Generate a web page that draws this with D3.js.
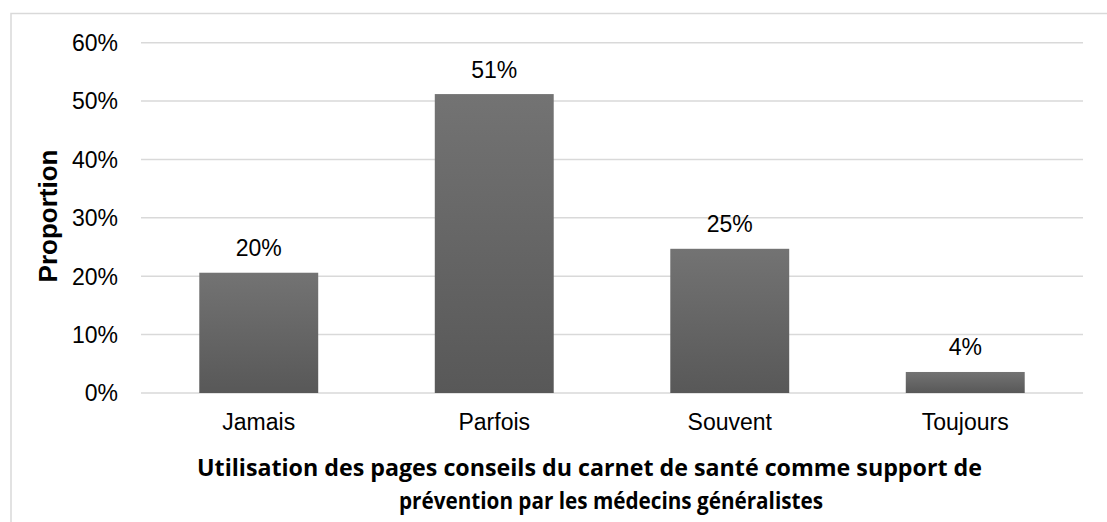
<!DOCTYPE html>
<html><head><meta charset="utf-8">
<script src="https://cdn.jsdelivr.net/npm/d3@7"></script>
<style>body{margin:0;background:#fff}svg{display:block}</style>
</head><body>
<svg id="c" width="1107" height="522"></svg>
<script>
const categories = ["Jamais", "Parfois", "Souvent", "Toujours"];
const values = [0.206, 0.512, 0.247, 0.036];
const valueLabels = ["20%", "51%", "25%", "4%"];
const yTicks = [0, 0.1, 0.2, 0.3, 0.4, 0.5, 0.6];
const yTitle = "Proportion";
const xTitleLines = ["Utilisation des pages conseils du carnet de santé comme support de", "prévention par les médecins généralistes"];

const svg = d3.select("#c");
const W = 1107, H = 522;
const m = {left: 141, right: 1083, top: 42.7, bottom: 393};
const sans = "Liberation Sans, Arial, sans-serif";

svg.append("rect").attr("x", 11).attr("y", 13.5).attr("width", W + 20).attr("height", H + 20)
  .attr("fill", "#fff").attr("stroke", "#d9d9d9").attr("stroke-width", 1.5);

const defs = svg.append("defs");
const g = defs.append("linearGradient").attr("id", "bg").attr("x1", 0).attr("y1", 0).attr("x2", 0).attr("y2", 1);
g.append("stop").attr("offset", "0%").attr("stop-color", "#737373");
g.append("stop").attr("offset", "100%").attr("stop-color", "#585858");

const x = d3.scaleBand().domain(categories).range([m.left, m.right]).paddingInner(0.495).paddingOuter(0.2475);
const y = d3.scaleLinear().domain([0, 0.6]).range([m.bottom, m.top]);

// gridlines
svg.append("g").selectAll("line").data(yTicks).join("line")
  .attr("x1", m.left).attr("x2", m.right)
  .attr("y1", d => y(d)).attr("y2", d => y(d))
  .attr("stroke", "#d9d9d9").attr("stroke-width", 1.5);

// y axis labels
const yAxis = d3.axisLeft(y).tickValues(yTicks).tickFormat(d3.format(".0%")).tickSize(0).tickPadding(0);
const ya = svg.append("g").attr("transform", `translate(118,0)`).call(yAxis);
ya.select(".domain").remove();
ya.selectAll("text").attr("font-family", sans).attr("font-size", 23).attr("fill", "#000").attr("dy", "0.34em");

// bars
svg.append("g").selectAll("rect").data(values).join("rect")
  .attr("x", (d, i) => x(categories[i]))
  .attr("width", x.bandwidth())
  .attr("y", d => y(d))
  .attr("height", d => y(0) - y(d))
  .attr("fill", "url(#bg)");

// value labels
svg.append("g").selectAll("text").data(values).join("text")
  .attr("x", (d, i) => x(categories[i]) + x.bandwidth() / 2)
  .attr("y", d => y(d) - 16.5)
  .attr("text-anchor", "middle")
  .attr("font-family", sans).attr("font-size", 23)
  .text((d, i) => valueLabels[i]);

// x axis labels
const xAxis = d3.axisBottom(x).tickSize(0).tickPadding(0);
const xa = svg.append("g").attr("transform", `translate(0,430)`).call(xAxis);
xa.select(".domain").remove();
xa.selectAll("text").attr("font-family", sans).attr("font-size", 23).attr("fill", "#000").attr("dy", 0);

// y title
svg.append("text").attr("transform", `translate(56.5,216) rotate(-90)`)
  .attr("text-anchor", "middle").attr("font-family", sans)
  .attr("font-weight", "bold").attr("font-size", 26).text(yTitle);

// x title
const tx = [589.5, 611], tl = [785, 424];
svg.append("g").selectAll("text").data(xTitleLines).join("text")
  .attr("x", (d, i) => tx[i]).attr("y", (d, i) => 476 + i * 33)
  .attr("text-anchor", "middle").attr("font-family", "Open Sans, Noto Sans, sans-serif")
  .attr("font-weight", "bold").attr("font-size", 24)
  .attr("textLength", (d, i) => tl[i]).attr("lengthAdjust", "spacingAndGlyphs")
  .text(d => d);
</script>
</body></html>
